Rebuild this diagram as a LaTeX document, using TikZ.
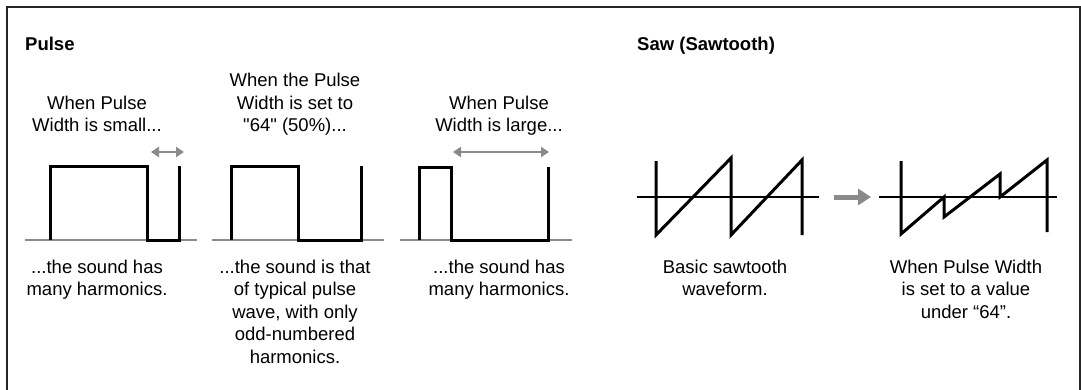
\documentclass[tikz,border=0pt]{standalone}
\usepackage{fontspec}
\setmainfont{Liberation Sans}
\usetikzlibrary{arrows.meta}
\definecolor{wavegray}{HTML}{8A8A8A}
\tikzset{
  txt/.style={align=center, inner sep=0pt, anchor=base, font=\fontsize{18.5}{22.4}\selectfont},
  title/.style={inner sep=0pt, anchor=base west, font=\fontsize{18.5}{22.4}\selectfont\bfseries},
  wave/.style={line width=3pt, line join=miter, black},
  baseln/.style={line width=1.8pt, wavegray},
  axis/.style={line width=1.3pt, black},
  dblarrow/.style={line width=2.4pt, wavegray, {Triangle[length=8pt,width=10pt]}-{Triangle[length=8pt,width=10pt]}},
  bigarrow/.style={line width=5pt, wavegray, -{Triangle[length=13pt,width=16pt]}},
  frame/.style={line width=1.6pt, black!85}
}
\begin{document}
\begin{tikzpicture}[x=1pt, y=-1pt]
\useasboundingbox (0,0) rectangle (1081,389);
\draw[frame] (7,392) -- (7,7) -- (1080,7) -- (1080,392);

% titles
\node[title] (tpulse) at (25,50) {Pulse};
\node[title] (tsaw) at (637,50) {Saw (Sawtooth)};

% pulse 1
\draw[baseln] (25,240) -- (197,240);
\draw[wave] (50,240) -- (50,166) -- (147,166) -- (147,240) -- (179,240) -- (179,166);
\coordinate (a1l) at (151,152); \coordinate (a1r) at (184,152);
\draw[dblarrow] (a1l) -- (a1r);
\node[txt] (t1) at (97,131.5) {When Pulse\\Width is small...};
\node[txt] (b1) at (97,295.5) {...the sound has\\many harmonics.};

% pulse 2
\draw[baseln] (212,240) -- (384,240);
\draw[wave] (231,240) -- (231,166) -- (298,166) -- (298,240) -- (361,240) -- (361,166);
\node[txt] (t2) at (295,131.5) {When the Pulse\\Width is set to\\\textquotedbl 64\textquotedbl{} (50\%)...};
\node[txt] (b2) at (295,363) {...the sound is that\\of typical pulse\\wave, with only\\odd-numbered\\harmonics.};

% pulse 3
\draw[baseln] (400,240) -- (572,240);
\draw[wave] (419,240) -- (419,167) -- (451,167) -- (451,240) -- (548,240) -- (548,167);
\coordinate (a3l) at (453,152); \coordinate (a3r) at (549,152);
\draw[dblarrow] (a3l) -- (a3r);
\node[txt] (t3) at (499,131.5) {When Pulse\\Width is large...};
\node[txt] (b3) at (499,295.5) {...the sound has\\many harmonics.};

% saw 1
\draw[axis] (637,197) -- (819,197);
\draw[wave] (656,161) -- (656,235) -- (731,158) -- (731,235) -- (802,160) -- (802,235);
\node[txt] (s1) at (725,295.5) {Basic sawtooth\\waveform.};

% arrow
\coordinate (ma) at (834,197); \coordinate (mb) at (871,197);
\draw[bigarrow] (ma) -- (mb);

% saw 2
\draw[axis] (879,197) -- (1057,197);
\draw[wave] (901,161) -- (901,234) -- (944,197) -- (944,217) -- (1000,174) -- (1000,197) -- (1047,160) -- (1047,232);
\node[txt] (s2) at (966,318) {When Pulse Width\\is set to a value\\under “64”.};
\end{tikzpicture}
\end{document}
